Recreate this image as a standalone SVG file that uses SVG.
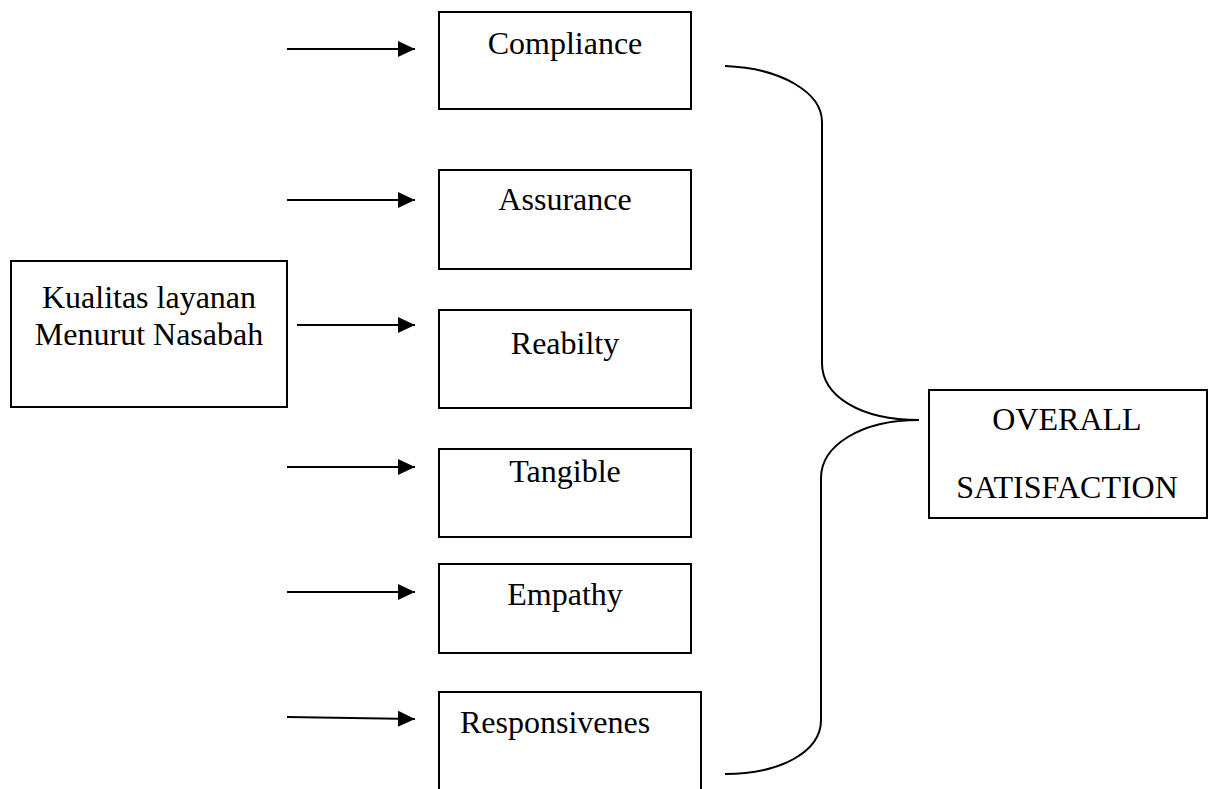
<svg xmlns="http://www.w3.org/2000/svg" width="1216" height="789" viewBox="0 0 1216 789">
<style>
.box{fill:#fff;stroke:#000;stroke-width:2}
.t{font-family:"Liberation Serif","Times New Roman",serif;font-size:32px;fill:#000}
.c{text-anchor:middle}
.ln{fill:none;stroke:#000;stroke-width:2}
</style>
<defs>
<marker id="ah" markerUnits="userSpaceOnUse" markerWidth="18" markerHeight="18" refX="17" refY="9" orient="auto">
<path d="M0,1 L17,9 L0,17 Z" fill="#000"/>
</marker>
</defs>
<rect width="1216" height="789" fill="#fff"/>
<g id="kualitas">
<rect class="box" x="11" y="261" width="276" height="146"/>
<text class="t c" x="149" y="308">Kualitas layanan</text>
<text class="t c" x="149" y="345">Menurut Nasabah</text>
</g>
<g id="compliance">
<rect class="box" x="439" y="12" width="252" height="97"/>
<text class="t c" x="565" y="54">Compliance</text>
</g>
<g id="assurance">
<rect class="box" x="439" y="170" width="252" height="99"/>
<text class="t c" x="565" y="210">Assurance</text>
</g>
<g id="reabilty">
<rect class="box" x="439" y="310" width="252" height="98"/>
<text class="t c" x="565" y="354">Reabilty</text>
</g>
<g id="tangible">
<rect class="box" x="439" y="449" width="252" height="88"/>
<text class="t c" x="565" y="482">Tangible</text>
</g>
<g id="empathy">
<rect class="box" x="439" y="564" width="252" height="89"/>
<text class="t c" x="565" y="605">Empathy</text>
</g>
<g id="responsivenes">
<path class="ln" d="M439,795 L439,692 L701,692 L701,795"/>
<text class="t" x="460" y="733">Responsivenes</text>
</g>
<g id="overall">
<rect class="box" x="929" y="390" width="278" height="128"/>
<text class="t c" x="1067" y="430">OVERALL</text>
<text class="t c" x="1067" y="498">SATISFACTION</text>
</g>
<g id="connectors">
<line class="ln" x1="287" y1="49" x2="415" y2="49" marker-end="url(#ah)"/>
<line class="ln" x1="287" y1="200" x2="415" y2="200" marker-end="url(#ah)"/>
<line class="ln" x1="297" y1="325" x2="415" y2="325" marker-end="url(#ah)"/>
<line class="ln" x1="287" y1="467" x2="415" y2="467" marker-end="url(#ah)"/>
<line class="ln" x1="287" y1="592" x2="415" y2="592" marker-end="url(#ah)"/>
<line class="ln" x1="287" y1="717" x2="415" y2="719" marker-end="url(#ah)"/>
<path class="ln" d="M725,66 C780,68 822,92 822,122 L822,363 C822,396 860,420 919,420 C860,420 821,446 821,478 L821,720 C821,752 780,774 725,774"/>
</g>
</svg>
